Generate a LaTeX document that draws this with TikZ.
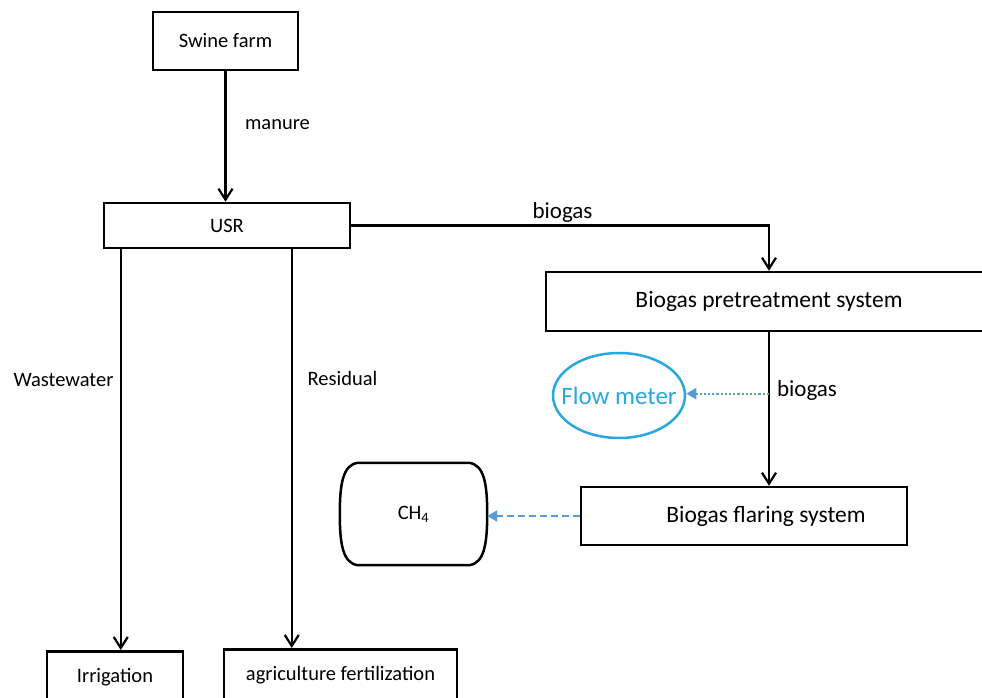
\documentclass[tikz,border=0pt]{standalone}
\usepackage{fontspec}
\setmainfont{Carlito}
\usetikzlibrary{arrows.meta, calc, shapes.geometric}
\definecolor{meterblue}{HTML}{29A8E0}
\definecolor{linkblue}{HTML}{5B9BD5}
\tikzset{
  box/.style       = {rectangle, draw=black, line width=2.5pt, inner sep=0pt,
                      align=center, font=\fontsize{20.5}{24}\selectfont},
  bigbox/.style    = {box, font=\fontsize{23.5}{28}\selectfont},
  openbox/.style   = {box, anchor=north, minimum height=52pt},
  tank/.style      = {rectangle, inner sep=0pt, font=\fontsize{20.5}{24}\selectfont},
  meter/.style     = {ellipse, draw=meterblue, line width=2.5pt, text=meterblue,
                      inner sep=0pt, inner xsep=-12pt, font=\fontsize{25}{30}\selectfont},
  arrow/.style     = {-{Straight Barb[length=11pt,width=14pt,line width=2.2pt]},
                      line width=2.2pt},
  dotarrow/.style  = {-{Triangle[length=10pt,width=11pt]}, linkblue,
                      line width=2.2pt, dotted},
  dasharrow/.style = {-{Triangle[length=10pt,width=11pt]}, linkblue,
                      line width=2.2pt, dash pattern=on 7pt off 4pt},
  flowtext/.style  = {font=\fontsize{20.5}{24}\selectfont},
  gastext/.style   = {font=\fontsize{23}{28}\selectfont},
}

\begin{document}
\begin{tikzpicture}[x=1pt, y=-1pt]
  \useasboundingbox (0,0) rectangle (982,698);

  \node[box, minimum width=145pt, minimum height=58pt] (swine) at (225.5,41) {Swine farm};
  \node[box, minimum width=246pt, minimum height=45pt] (usr)   at (227,225.5) {USR};
  \node[bigbox, minimum width=446pt, minimum height=59pt] (pre) at (769,301.5) {Biogas pretreatment system};
  \node[meter, minimum width=132pt, minimum height=85pt] (flow) at (619,395.5) {Flow meter};
  \node[bigbox, minimum width=326pt, minimum height=58pt] (flare) at (744,516) {\hspace*{44pt}Biogas flaring system};
  \node[tank, minimum width=147pt, minimum height=102pt] (ch4) at (413.5,514) {CH\textsubscript{4}};
  \node[openbox, minimum width=136pt] (irr)  at (115,650) {Irrigation};
  \node[openbox, minimum width=233pt] (agri) at (340.5,648) {agriculture fertilization};

  % barrel outline round CH4
  \draw[line width=2.5pt] ($(ch4.north west)+(18,0)$) -- ($(ch4.north east)+(-18,0)$)
    .. controls ($(ch4.north east)+(-3,2)$) and ($(ch4.east)+(0,-30)$) .. (ch4.east)
    .. controls ($(ch4.east)+(0,30)$) and ($(ch4.south east)+(-3,-2)$) .. ($(ch4.south east)+(-18,0)$)
    -- ($(ch4.south west)+(18,0)$)
    .. controls ($(ch4.south west)+(3,-2)$) and ($(ch4.west)+(0,30)$) .. (ch4.west)
    .. controls ($(ch4.west)+(0,-30)$) and ($(ch4.north west)+(3,2)$) .. cycle;

  % flow labels
  \node[flowtext] (manure) at (277.5,125) {manure};
  \node[gastext]  (gas1)   at (562.5,212) {biogas};
  \node[flowtext] (waste)  at (63.5,380)  {Wastewater};
  \node[flowtext] (resid)  at (342.5,378) {Residual};
  \node[gastext]  (gas2)   at (807,390)   {biogas};

  \draw[arrow] (swine.south) -- (swine.south |- usr.north);
  \draw[arrow] (usr.east) -| (pre.north);
  \draw[arrow] (pre.south) -- (pre.south |- flare.north);
  \coordinate (tap) at ($(pre.south)!0.4!(pre.south |- flare.north)$);
  \draw[dotarrow] (tap) -- (tap -| flow.east);
  \draw[dasharrow] (flare.west) -- (flare.west -| ch4.east);
  \draw[arrow] ($(usr.south west)+(18,0)$)  -- ($(irr.north west)+(75,0)$);
  \draw[arrow] ($(usr.south west)+(189,0)$) -- ($(agri.north west)+(69,0)$);
\end{tikzpicture}
\end{document}
